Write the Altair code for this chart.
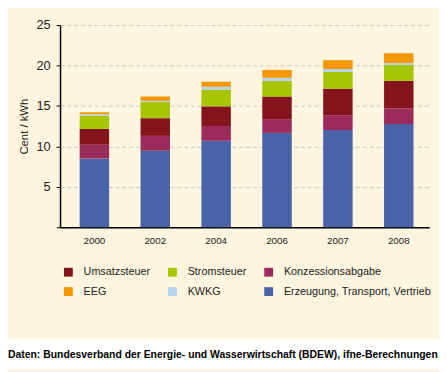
import altair as alt
import pandas as pd

years = ["2000", "2002", "2004", "2006", "2007", "2008"]
erzeugung = [8.51, 9.48, 10.70, 11.67, 12.03, 12.76]
konzession = [1.70, 1.82, 1.82, 1.70, 1.83, 1.95]
umsatz = [1.95, 2.19, 2.43, 2.80, 3.28, 3.40]
strom = [1.62, 1.99, 2.07, 1.94, 2.07, 1.95]
kwkg = [0.20, 0.16, 0.36, 0.37, 0.36, 0.24]
eeg = [0.24, 0.53, 0.61, 0.97, 1.09, 1.22]

series = [
    ("Erzeugung, Transport, Vertrieb", erzeugung),
    ("Konzessionsabgabe", konzession),
    ("Umsatzsteuer", umsatz),
    ("Stromsteuer", strom),
    ("KWKG", kwkg),
    ("EEG", eeg),
]
# legend fills column by column: (Umsatzsteuer, EEG) (Stromsteuer, KWKG) (Konzessionsabgabe, Erzeugung)
legend_order = ["Umsatzsteuer", "EEG", "Stromsteuer", "KWKG",
                "Konzessionsabgabe", "Erzeugung, Transport, Vertrieb"]
colors = {
    "Umsatzsteuer": "#85151C",
    "Stromsteuer": "#A7C500",
    "Konzessionsabgabe": "#9B2B5C",
    "EEG": "#F39800",
    "KWKG": "#B4D3EC",
    "Erzeugung, Transport, Vertrieb": "#4A62A8",
}
source_text = "Daten: Bundesverband der Energie- und Wasserwirtschaft (BDEW), ifne-Berechnungen"

rows = []
for rank, (name, vals) in enumerate(series):
    for y, v in zip(years, vals):
        rows.append({"Jahr": y, "Komponente": name, "Wert": v, "rank": rank})
df = pd.DataFrame(rows)

FONT = "Liberation Sans"
W, H = 376, 206

bars = alt.Chart(df).mark_bar().encode(
    x=alt.X("Jahr:N", sort=years,
            scale=alt.Scale(paddingInner=0.516, paddingOuter=0.29, align=0.556),
            axis=alt.Axis(title=None, labelAngle=0, ticks=False, domainColor="black",
                          domainWidth=1.5, labelFont=FONT, labelFontSize=10,
                          labelColor="#222", labelPadding=9)),
    y=alt.Y("Wert:Q", stack="zero",
            scale=alt.Scale(domain=[0, 25], nice=False),
            axis=alt.Axis(title="Cent / kWh", values=[0, 5, 10, 15, 20, 25],
                          labelExpr="datum.value == 0 ? '' : datum.label",
                          domainColor="black", domainWidth=1.5, tickColor="black",
                          tickSize=4, labelFont=FONT, labelFontSize=13, labelColor="#222",
                          labelPadding=6, titleFont=FONT, titleFontSize=11.5,
                          titleFontWeight="normal", titleColor="#222", titlePadding=7,
                          gridColor="#C8C8C8", gridDash=[4, 3], gridWidth=1)),
    color=alt.Color("Komponente:N",
                    scale=alt.Scale(domain=legend_order,
                                    range=[colors[k] for k in legend_order]),
                    legend=alt.Legend(title=None, orient="none", legendX=3, legendY=246,
                                      columns=3, symbolType="square", symbolSize=81,
                                      symbolStrokeWidth=0, labelFont=FONT,
                                      labelFontSize=11, labelColor="#222",
                                      labelOffset=10, columnPadding=17, rowPadding=8,
                                      padding=0, labelLimit=300)),
    order=alt.Order("rank:Q", sort="ascending"),
)

white_strip = alt.Chart(alt.Data(values=[{}])).mark_rect(color="white", clip=False).encode(
    x=alt.value(-53), x2=alt.value(W + 10), y=alt.value(320), y2=alt.value(H + 144)
)

source = alt.Chart(alt.Data(values=[{"t": source_text}])).mark_text(
    align="left", baseline="middle", font=FONT, fontSize=10.6, fontWeight="bold",
    color="black", clip=False
).encode(x=alt.value(-53), y=alt.value(336), text="t:N")

chart = alt.layer(bars, white_strip, source).properties(
    width=W, height=H,
    autosize=alt.AutoSizeParams(type="none"),
    padding={"left": 53, "top": 14, "right": 10, "bottom": 144},
    background="#FEF5E0",
).configure_view(stroke=None)

chart.save("out.html", embed_options={"renderer": "svg", "actions": False})
